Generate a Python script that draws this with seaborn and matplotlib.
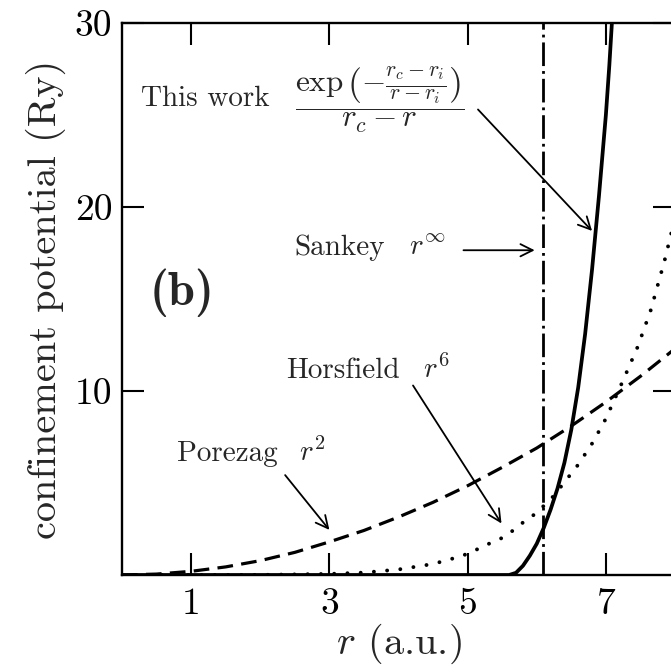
import matplotlib
matplotlib.use("Agg")
import matplotlib.pyplot as plt
import pandas as pd
import seaborn as sns

# ---- data ----
r_porezag = [0.0, 0.5, 1.0, 1.5, 2.0, 2.5, 3.0, 3.5, 4.0, 4.5, 5.0, 5.5, 6.0, 6.5, 7.0, 7.5, 8.0]
v_porezag = [0.0, 0.05, 0.2, 0.44, 0.78, 1.23, 1.8, 2.42, 3.15, 3.95, 4.85, 5.85, 6.9, 8.1, 9.4, 10.8, 12.3]

r_horsfield = [0.0, 1.0, 2.0, 3.0, 3.5, 4.0, 4.5, 4.81, 5.0, 5.32, 5.49, 5.65, 5.8, 5.97,
               6.2, 6.35, 6.6, 6.81, 7.0, 7.24, 7.46, 7.65, 7.85, 8.0]
v_horsfield = [0.0, 0.0, 0.005, 0.06, 0.13, 0.3, 0.6, 0.92, 1.15, 1.72, 2.0, 2.4, 2.85, 3.3,
               4.1, 4.8, 6.0, 7.2, 8.5, 10.5, 12.4, 14.4, 17.1, 19.4]

r_thiswork = [0.0, 5.6, 5.7, 5.8, 5.9, 6.0, 6.1, 6.2, 6.3, 6.4, 6.5, 6.6, 6.7, 6.8, 6.9,
              7.0, 7.05, 7.1]
v_thiswork = [0.0, 0.0, 0.12, 0.5, 1.05, 1.7, 2.55, 3.55, 4.7, 6.1, 7.9, 10.2, 13.1, 16.6,
              20.6, 25.0, 27.7, 30.8]

sankey_r = 6.09

x_ticks = [1, 3, 5, 7]
y_ticks = [10, 20, 30]

# ---- style ----
sns.set_style("ticks")
plt.rcParams.update({
    "font.family": ["cmr10", "DejaVu Serif"],
    "mathtext.fontset": "cm",
    "axes.unicode_minus": False,
    "axes.formatter.use_mathtext": True,
})

fig = plt.figure(figsize=(6.71, 6.72), dpi=100)
ax = fig.add_axes([122 / 671, 97 / 672, (675 - 122) / 671, (575 - 23) / 672])

df_p = pd.DataFrame({"r": r_porezag, "v": v_porezag})
df_h = pd.DataFrame({"r": r_horsfield, "v": v_horsfield})
df_t = pd.DataFrame({"r": r_thiswork, "v": v_thiswork})

sns.lineplot(data=df_p, x="r", y="v", ax=ax, color="black", lw=2.3,
             linestyle=(0, (4.9, 2.6)))
sns.lineplot(data=df_h, x="r", y="v", ax=ax, color="black", lw=2.8,
             linestyle=(0, (0.01, 3.4)), dash_capstyle="round")
sns.lineplot(data=df_t, x="r", y="v", ax=ax, color="black", lw=2.7)
ax.axvline(sankey_r, color="black", lw=2.0, linestyle=(0, (8.5, 1.8, 1.0, 1.8)))

ax.set_xlim(0, 8)
ax.set_ylim(0, 30)
ax.set_xticks(x_ticks)
ax.set_yticks(y_ticks)
ax.set_xticklabels([str(t) for t in x_ticks])
ax.set_yticklabels([str(t) for t in y_ticks])
ax.tick_params(direction="in", length=16, width=1.5, top=True, right=True,
               labelsize=27, colors="black")
ax.tick_params(axis="x", pad=9)
ax.tick_params(axis="y", pad=7)
for s in ax.spines.values():
    s.set_linewidth(1.7)
    s.set_color("black")

ax.set_xlabel(r"$r$ (a.u.)", fontsize=29, labelpad=1)
ax.set_ylabel("confinement potential (Ry)", fontsize=29, labelpad=6)

# ---- annotations ----
fs = 21
arrow = dict(arrowstyle="->", lw=1.3, color="black", mutation_scale=22, shrinkA=0, shrinkB=0)

ax.text(0.27, 25.5, "This work", fontsize=fs, ha="left", va="baseline")
ax.text(3.73, 25.85, r"$\dfrac{\exp\left(-\frac{r_c-r_i}{r-r_i}\right)}{r_c-r}$",
        fontsize=22.5, ha="center", va="center")
ax.annotate("", xy=(6.80, 18.7), xytext=(5.15, 25.3), arrowprops=arrow)

ax.text(2.5, 17.4, "Sankey", fontsize=fs, ha="left", va="baseline")
ax.text(4.15, 17.4, r"$r^{\infty}$", fontsize=fs, ha="left", va="baseline")
ax.annotate("", xy=(5.97, 17.65), xytext=(4.94, 17.65), arrowprops=arrow)

ax.text(0.874, 15.35, "(b)", fontsize=35, fontfamily="cmb10", ha="center", va="center")

ax.text(2.38, 10.7, "Horsfield", fontsize=fs, ha="left", va="baseline")
ax.text(4.35, 10.7, r"$r^{6}$", fontsize=fs, ha="left", va="baseline")
ax.annotate("", xy=(5.49, 2.8), xytext=(4.21, 10.3), arrowprops=arrow)

ax.text(0.80, 6.2, "Porezag", fontsize=fs, ha="left", va="baseline")
ax.text(2.56, 6.2, r"$r^{2}$", fontsize=fs, ha="left", va="baseline")
ax.annotate("", xy=(3.0, 2.45), xytext=(2.36, 5.43), arrowprops=arrow)

fig.savefig("out.png", dpi=100)
